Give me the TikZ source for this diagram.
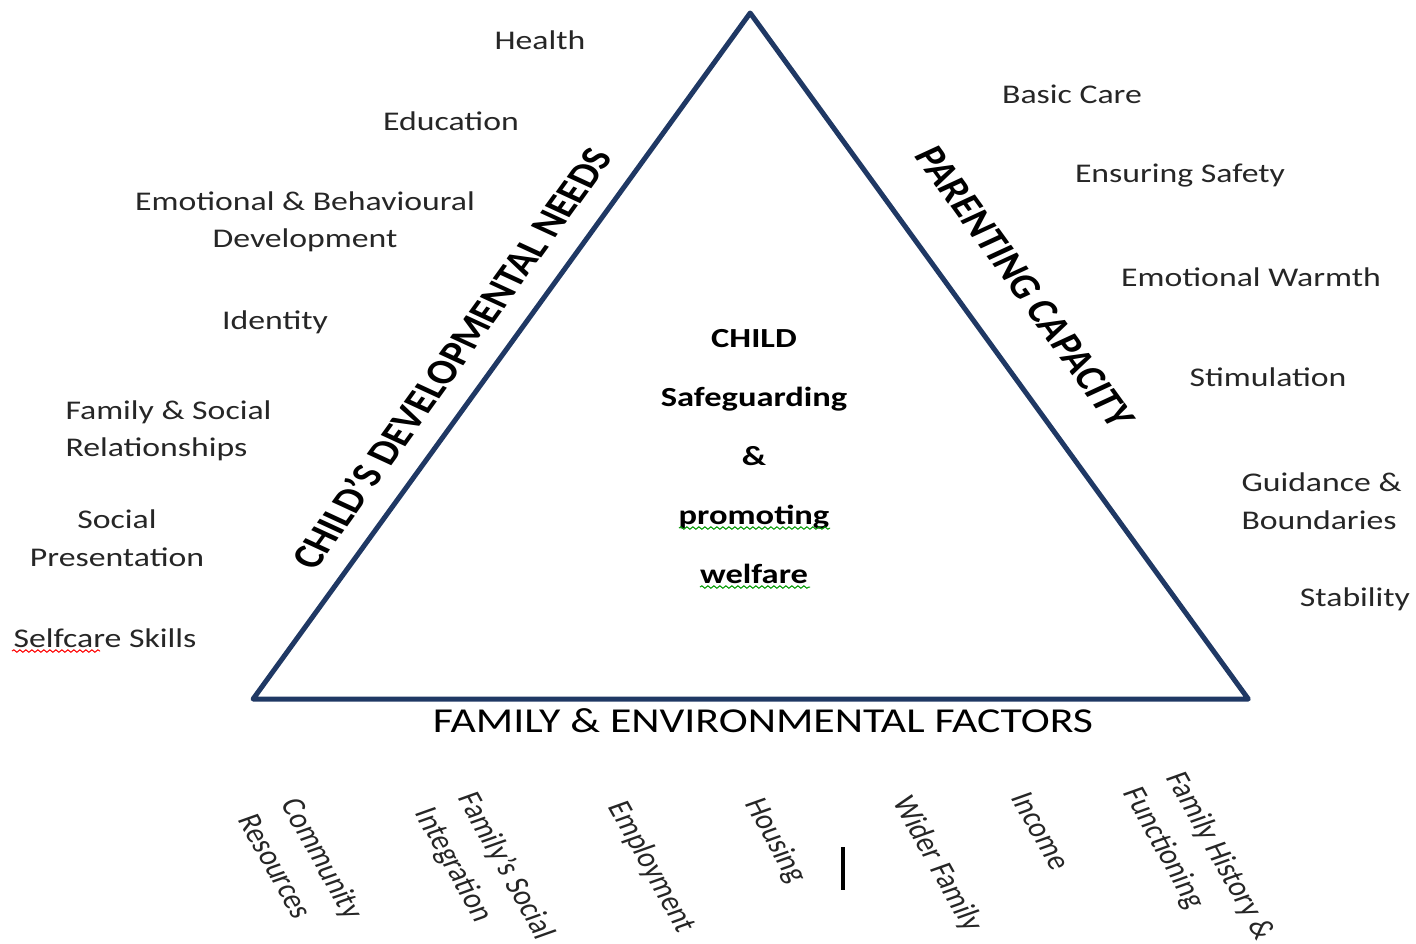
\documentclass[tikz,border=0pt]{standalone}
\usepackage{fontspec}
\setmainfont{Carlito}
\usetikzlibrary{decorations.pathmorphing}
\definecolor{navy}{RGB}{31,56,100}
\tikzset{
    need/.style={
        font=\fontsize{13.5}{18.75}\selectfont,
        text=black!85,
        inner sep=0pt,
        align=center
    },
    side/.style={
        font=\bfseries\fontsize{17.5}{21}\selectfont,
        inner sep=0pt
    },
    factor/.style={need, rotate=-66, align=left},
    squiggle/.style={
        decorate,
        decoration={snake, amplitude=0.6pt, segment length=3pt},
        line width=0.5pt
    }
}

\begin{document}
\begin{tikzpicture}[x=0.4pt,y=-0.5pt,xscale=1.25,transform shape]
    \useasboundingbox (0,0) rectangle (1416,943);
    % draw triangle
    \coordinate (apex) at (750,13);
    \coordinate (left) at (253,699);
    \coordinate (right) at (1248,699);
    \draw[navy, line width=2.5pt, line join=round] (apex) -- (left) -- (right) -- cycle;
    % draw side titles
    \node[side, rotate=60] (needs) at (451,358) {CHILD’S DEVELOPMENTAL NEEDS};
    \node[side, rotate=-60] (parenting) at (1025,287) {PARENTING CAPACITY};
    \node[side, font=\fontsize{17.5}{21}\selectfont] (factors) at (763,721)
        {FAMILY \& ENVIRONMENTAL FACTORS};
    % draw centre text
    \node[font=\bfseries\fontsize{13.8}{29.5}\selectfont, align=center, inner sep=0pt]
        (child) at (754,457) {CHILD\\Safeguarding\\\&\\promoting\\welfare};
    % draw child's needs
    \foreach \n/\x/\y/\t in {health/540/40/Health, education/451/121/Education,
        emotional/305/222/{Emotional \& Behavioural\\Development},
        identity/275/322/Identity, social/117/538/{Social\\Presentation},
        selfcare/105/638/Selfcare Skills}
        \node[need] (\n) at (\x,\y) {\t};
    \node[need, anchor=west, align=left] (family) at (65,431) {Family \& Social\\Relationships};
    % draw parenting capacity
    \foreach \n/\x/\y/\t in {basic/1072/94/Basic Care, safety/1180/176/Ensuring Safety,
        warmth/1251/277/Emotional Warmth, stimulation/1268/377/Stimulation,
        stability/1355/599/Stability}
        \node[need] (\n) at (\x,\y) {\t};
    \node[need, anchor=west, align=left] (guidance) at (1241,501) {Guidance \&\\Boundaries};
    % draw family and environmental factors
    \foreach \n/\x/\y/\t in {community/302/866/{Community\\Resources},
        integration/484/874/{Family’s Social\\Integration},
        employment/651/867/Employment, housing/775/841/Housing,
        wider/937/864/Wider Family, income/1041/831/Income,
        history/1198/864/{Family History \&\\Functioning}}
        \node[factor] (\n) at (\x,\y) {\t};
    \draw[line width=2pt] (843,847) -- (843,890);
    % draw spelling marks
    \draw[squiggle, green!60!black] (679,528) -- (830,528);
    \draw[squiggle, green!60!black] (700,587) -- (810,587);
    \draw[squiggle, red] (12,651) -- (100,651);
\end{tikzpicture}
\end{document}
